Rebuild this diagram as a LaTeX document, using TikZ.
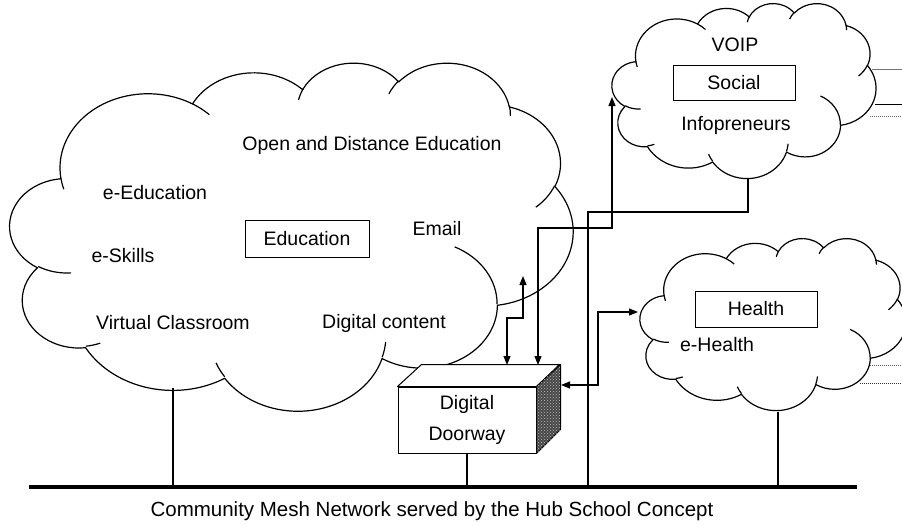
\documentclass[tikz,border=0pt]{standalone}
\usepackage{fontspec}
\setmainfont{Liberation Sans}
\usetikzlibrary{arrows.meta,patterns}

\tikzset{
  % one puff of the cloud: radii, start angle and sweep (visual angles)
  lobe/.style n args={4}{
    x radius=#1, y radius=#2,
    start angle={atan2(#1*sin(#3),#2*cos(#3))},
    delta angle={mod(atan2(#1*sin(#3+#4),#2*cos(#3+#4))-atan2(#1*sin(#3),#2*cos(#3))+720,360)}},
  outline/.style={line width=1.2pt, line join=round},
  lbl/.style={font=\fontsize{19.5}{23}\selectfont, inner sep=0pt},
  topicbox/.style={draw, line width=1pt, minimum width=122pt, minimum height=36pt,
    inner sep=0pt, font=\fontsize{19.5}{23}\selectfont},
  link/.style={line width=1.2pt,
    {Triangle[length=9pt,width=7pt]}-{Triangle[length=9pt,width=7pt]}},
  trunk/.style={line width=2.6pt},
  bus/.style={line width=3.4pt},
  stub/.style={line width=0.9pt},
  faint/.style={line width=1pt, densely dotted, black!60},
}

% cloud outline with its inner puff strokes, placed in a box x0 y0 width height
\newcommand\drawcloud[4]{%
  \pgfmathsetmacro\cldw{#3/4320}%
  \pgfmathsetmacro\cldh{#4/4320}%
  \begin{scope}[shift={(#1,#2)}, x=\cldw pt, y=-\cldh pt]
    \draw[outline, fill=white] (390,1437)
      arc[lobe={675.3}{919.0}{-190.4875}{123.7805}]
      arc[lobe={533.3}{726.7}{-144.1024}{89.9452}]
      arc[lobe={436.5}{594.5}{-145.8079}{99.7230}]
      arc[lobe={485.7}{659.5}{-130.9861}{117.2417}]
      arc[lobe={533.3}{727.3}{-78.7089}{109.0269}]
      arc[lobe={677.5}{922.0}{-46.2673}{130.2690}]
      arc[lobe={578.5}{786.7}{0.6250}{114.0333}]
      arc[lobe={675.2}{921.5}{22.4516}{115.1726}]
      arc[lobe={772.0}{1054.3}{66.2426}{75.7110}]
      arc[lobe={436.0}{591.8}{-274.9421}{146.7356}]
      arc[lobe={434.5}{594.5}{-246.8285}{152.5189}]
      -- cycle;
    \draw[outline]
      (469.3,2617.7) arc[lobe={434.5}{594.5}{86.742}{26.4295}]
      (692.8,3489.9) arc[lobe={436.0}{591.8}{73.6105}{11.4475}]
      (1647.8,3909.0) arc[lobe={675.2}{921.5}{137.6242}{14.0811}]
      (2882.7,3475.1) arc[lobe={675.2}{921.5}{6.4533}{15.9984}]
      (3412.9,2295.4) arc[lobe={578.5}{786.7}{-70.2924}{70.9174}]
      (4179.8,1535.4) arc[lobe={533.3}{727.3}{30.3180}{27.7515}]
      (3832.4,542.6) arc[lobe={485.7}{659.5}{-13.7443}{14.8589}]
      (2907.8,395.2) arc[lobe={485.7}{659.5}{-149.1815}{18.1954}]
      (2214.1,472.0) arc[lobe={436.5}{594.5}{-163.4943}{17.6864}]
      (1400.0,519.2) arc[lobe={675.3}{919.0}{-66.7070}{12.3194}]
      (412.7,1578.9) arc[lobe={675.3}{919.0}{157.6544}{11.8582}];
  \end{scope}}

\begin{document}
\begin{tikzpicture}[x=1pt, y=-1pt]
  \useasboundingbox (0,0) rectangle (902,525);
  \fill[white] (0,0) rectangle (902,525);
  \clip (0,0) rectangle (902,525);

  % the three service clouds
  \drawcloud{10}{62}{563}{348}
  \drawcloud{612}{3}{264}{175}
  \drawcloud{640}{238}{266}{172}

  % attachment points on the clouds
  \coordinate (eduS) at (173,388);
  \coordinate (eduE) at (523,276);
  \coordinate (socW) at (612,97);
  \coordinate (socS) at (748,178);
  \coordinate (hltW) at (638,312);
  \coordinate (hltS) at (778,412);

  % lines leaving the clouds to the right
  \draw[stub, black!55] (872,69) -- (902,69);
  \draw[stub] (875,104) -- (902,104);
  \draw[faint] (870,116) -- (902,116);
  \draw[faint] (870,365) -- (902,365);
  \draw[faint, black!80] (860,383) -- (902,383);

  % Education cloud texts
  \node[lbl] (ode)   at (372,145) {Open and Distance Education};
  \node[lbl] (eedu)  at (155,193) {e-Education};
  \node[lbl] (eskl)  at (123,256) {e-Skills};
  \node[topicbox, minimum width=124pt, minimum height=37pt] (edu) at (307,238.5) {Education};
  \node[lbl] (mail)  at (437,229) {Email};
  \node[lbl] (vcls)  at (173,323) {Virtual Classroom};
  \node[lbl] (dcont) at (384,323) {Digital content};

  % Social cloud texts
  \node[lbl] (voip) at (735,45) {VOIP};
  \node[topicbox, minimum height=35pt] (soc) at (734,82.5) {Social};
  \node[lbl] (info) at (736,125) {Infopreneurs};

  % Health cloud texts
  \node[topicbox] (hlt) at (756,309) {Health};
  \node[lbl] (ehlt) at (717,345) {e-Health};

  % Digital Doorway kiosk
  \node[draw, line width=1pt, fill=white, minimum width=138pt, minimum height=66pt,
        inner sep=0pt, align=center, font=\fontsize{19.5}{31}\selectfont]
        (dd) at (467,420) {Digital\\Doorway};
  \draw[line width=1pt, fill=white, line join=round]
    (dd.north west) -- ++(24,-22) -- ++(138,0) -- (dd.north east) -- cycle;
  \draw[line width=1pt, fill=black!72, line join=round]
    (dd.north east) -- ++(24,-22) -- ++(0,65) -- (dd.south east) -- cycle;
  \fill[pattern=crosshatch dots, pattern color=white!75!black]
    (dd.north east) -- ++(24,-22) -- ++(0,65) -- (dd.south east) -- cycle;
  \coordinate (ddA) at (538,365);
  \coordinate (ddB) at (507,365);
  \coordinate (ddR) at (561,385);

  % links from the kiosk to the clouds
  \draw[link] (ddA) |- (socW |- 0,228) -- (socW);
  \draw[link] (ddB) -- (507,318) -| (eduE);
  \draw[link] (ddR) -- (598,385) |- (hltW);

  % community mesh backbone
  \coordinate (busL) at (29,487);
  \coordinate (busR) at (857,487);
  \coordinate (hub)  at (588,487);
  \draw[bus] (busL) -- (busR);
  \draw[trunk] (eduS) -- (eduS |- busL);
  \draw[trunk] (dd.south) -- (dd.south |- busL);
  \draw[trunk] (hltS) -- (hltS |- busL);
  \draw[trunk, line join=miter] (hub) |- (socS |- 0,212) -- (socS);

  \node[lbl, font=\fontsize{20.5}{24}\selectfont] (cap) at (432,511)
    {Community Mesh Network served by the Hub School Concept};
\end{tikzpicture}
\end{document}
